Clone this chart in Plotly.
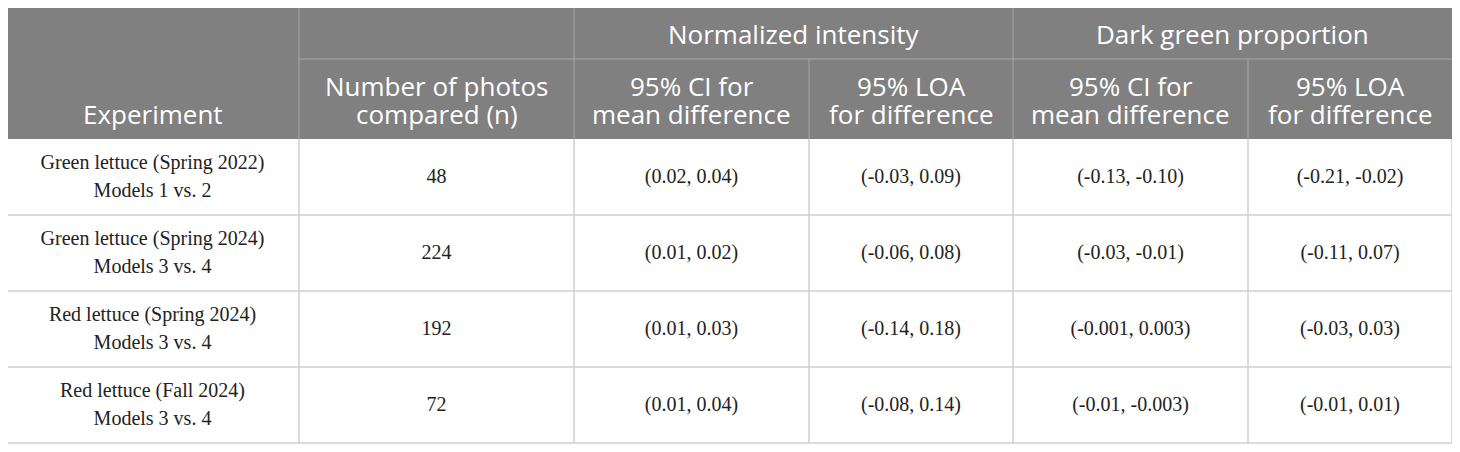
import plotly.graph_objects as go

# table content
experiments = ["Green lettuce (Spring 2022)", "Green lettuce (Spring 2024)",
               "Red lettuce (Spring 2024)", "Red lettuce (Fall 2024)"]
model_pairs = ["Models 1 vs. 2", "Models 3 vs. 4", "Models 3 vs. 4", "Models 3 vs. 4"]
n_photos = [48, 224, 192, 72]
ni_ci = ["(0.02, 0.04)", "(0.01, 0.02)", "(0.01, 0.03)", "(0.01, 0.04)"]
ni_loa = ["(-0.03, 0.09)", "(-0.06, 0.08)", "(-0.14, 0.18)", "(-0.08, 0.14)"]
dg_ci = ["(-0.13, -0.10)", "(-0.03, -0.01)", "(-0.001, 0.003)", "(-0.01, -0.003)"]
dg_loa = ["(-0.21, -0.02)", "(-0.11, 0.07)", "(-0.03, 0.03)", "(-0.01, 0.01)"]

group_headers = ["Normalized intensity", "Dark green proportion"]
col_headers = [["Experiment"], ["Number of photos", "compared (n)"],
               ["95% CI for", "mean difference"], ["95% LOA", "for difference"],
               ["95% CI for", "mean difference"], ["95% LOA", "for difference"]]

# layout grid (window pixel coordinates; the page has an 8px body margin)
PAGE_OFF = 8
col_edges = [6, 299, 574, 809, 1013, 1248, 1452]
head_top, head_mid, head_bot = 7, 59, 139
row_h = 76
row_edges = [head_bot + i * row_h for i in range(len(experiments) + 1)]
col_mid = [(a + b) / 2 for a, b in zip(col_edges[:-1], col_edges[1:])]
row_mid = [(a + b) / 2 for a, b in zip(row_edges[:-1], row_edges[1:])]

HEAD_BG = "#7f807f"
HEAD_LINE = "#a8a9a8"
GRID = "#cfcfcf"
head_font = dict(family="Open Sans", size=26, color="white")
body_font = dict(family="Liberation Serif", size=20, color="#222222")

fig = go.Figure()

# body: first column two lines, others one line per cell
fig.add_trace(go.Scatter(x=[col_mid[0]] * len(experiments), y=[m - 13 for m in row_mid],
                         text=experiments, mode="text", textfont=body_font, hoverinfo="skip"))
fig.add_trace(go.Scatter(x=[col_mid[0]] * len(model_pairs), y=[m + 15 for m in row_mid],
                         text=model_pairs, mode="text", textfont=body_font, hoverinfo="skip"))
for ci, col in enumerate([n_photos, ni_ci, ni_loa, dg_ci, dg_loa], start=1):
    fig.add_trace(go.Scatter(x=[col_mid[ci]] * len(col), y=[m + 1 for m in row_mid],
                             text=[str(v) for v in col], mode="text",
                             textfont=body_font, hoverinfo="skip"))

shapes = [dict(type="rect", x0=col_edges[0], x1=col_edges[-1], y0=head_top, y1=head_bot,
               fillcolor=HEAD_BG, line_width=0, layer="below")]
# header lines
for x in [col_edges[1], col_edges[2], col_edges[4]]:
    shapes.append(dict(type="line", x0=x, x1=x, y0=head_top, y1=head_bot,
                       line=dict(color=HEAD_LINE, width=1)))
for x in [col_edges[3], col_edges[5]]:
    shapes.append(dict(type="line", x0=x, x1=x, y0=head_mid, y1=head_bot,
                       line=dict(color=HEAD_LINE, width=1)))
shapes.append(dict(type="line", x0=col_edges[1], x1=col_edges[-1], y0=head_mid, y1=head_mid,
                   line=dict(color=HEAD_LINE, width=1)))
# body grid
for y in row_edges[1:]:
    shapes.append(dict(type="line", x0=col_edges[0], x1=col_edges[-1], y0=y, y1=y,
                       line=dict(color=GRID, width=1.5)))
for x in col_edges:
    shapes.append(dict(type="line", x0=x, x1=x, y0=head_bot, y1=row_edges[-1],
                       line=dict(color=GRID, width=1.5)))

annotations = []
for i, g in enumerate(group_headers):
    gx = (col_edges[2 + 2 * i] + col_edges[4 + 2 * i]) / 2
    annotations.append(dict(x=gx, y=(head_top + head_mid) / 2 + 1, text=g, showarrow=False,
                            font=head_font, xanchor="center", yanchor="middle"))
for ci, lines in enumerate(col_headers):
    ys = [114] if len(lines) == 1 else [86, 114]
    for t, y in zip(lines, ys):
        annotations.append(dict(x=col_mid[ci], y=y, text=t, showarrow=False,
                                font=head_font, xanchor="center", yanchor="middle"))

fig.update_layout(
    width=1460 - PAGE_OFF, height=452 - PAGE_OFF,
    margin=dict(l=0, r=0, t=0, b=0),
    paper_bgcolor="white", plot_bgcolor="white",
    showlegend=False,
    shapes=shapes, annotations=annotations,
    xaxis=dict(range=[PAGE_OFF, 1460], visible=False, fixedrange=True),
    yaxis=dict(range=[452, PAGE_OFF], visible=False, fixedrange=True),
)
fig.write_html("out.html")
